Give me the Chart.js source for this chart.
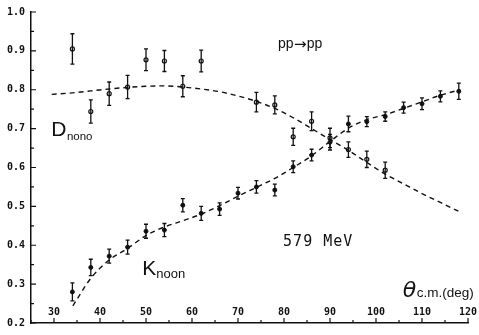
<!DOCTYPE html>
<html><head><meta charset="utf-8">
<script src="https://cdn.jsdelivr.net/npm/chart.js@4.4.0/dist/chart.umd.min.js"></script>
<style>html,body{margin:0;padding:0;background:#fff}#wrap{width:479px;height:335px}</style>
</head><body><div id="wrap"><canvas id="c" width="479" height="335"></canvas></div>
<script>
// ---- data ----
const dAngles = [34, 38, 42, 46, 50, 54, 58, 62, 74, 78, 82, 86, 90, 94, 98, 102];
const dValues = [0.905, 0.744, 0.790, 0.807, 0.877, 0.874, 0.809, 0.874, 0.768, 0.761, 0.679, 0.719, 0.676, 0.646, 0.621, 0.593];
const dErrors = [0.039, 0.030, 0.030, 0.030, 0.028, 0.027, 0.027, 0.028, 0.025, 0.023, 0.022, 0.024, 0.025, 0.020, 0.021, 0.021];

const kAngles = [34, 38, 42, 46, 50, 54, 58, 62, 66, 70, 74, 78, 82, 86, 90, 94, 98, 102, 106, 110, 114, 118];
const kValues = [0.280, 0.343, 0.372, 0.395, 0.436, 0.439, 0.503, 0.482, 0.493, 0.534, 0.550, 0.542, 0.602, 0.632, 0.665, 0.712, 0.718, 0.731, 0.754, 0.764, 0.783, 0.796];
const kErrors = [0.023, 0.021, 0.018, 0.018, 0.018, 0.017, 0.017, 0.018, 0.016, 0.015, 0.016, 0.015, 0.015, 0.015, 0.020, 0.020, 0.013, 0.012, 0.014, 0.015, 0.014, 0.021];

const dCurveAngles = [29.5, 34, 38, 42, 46, 50, 54, 58, 62, 66, 70, 74, 78, 82, 86, 90, 94, 98, 102, 106, 110, 114, 118.2];
const dCurveValues = [0.788, 0.792, 0.797, 0.802, 0.806, 0.809, 0.810, 0.807, 0.802, 0.795, 0.784, 0.770, 0.752, 0.728, 0.700, 0.672, 0.644, 0.613, 0.583, 0.558, 0.533, 0.510, 0.486];

const kCurveAngles = [34.1, 38, 42, 46, 50, 54, 58, 62, 66, 70, 74, 78, 82, 86, 90, 94, 98, 102, 106, 110, 114, 118.3];
const kCurveValues = [0.244, 0.315, 0.362, 0.392, 0.425, 0.447, 0.463, 0.480, 0.502, 0.526, 0.549, 0.572, 0.600, 0.630, 0.667, 0.701, 0.723, 0.736, 0.752, 0.769, 0.786, 0.800];

const xTickLabels = ['30', '40', '50', '60', '70', '80', '90', '100', '110', '120'];
const yTickLabels = ['0.2', '0.3', '0.4', '0.5', '0.6', '0.7', '0.8', '0.9', '1.0'];

const toPts = (xs, ys) => xs.map((x, i) => ({x: x, y: ys[i]}));
const INK = '#111';

// ---- error bars drawn through the chart scales ----
const errorBars = {
  id: 'errorBars',
  afterDatasetsDraw(chart) {
    const {ctx, scales: {x, y}} = chart;
    chart.data.datasets.forEach((ds) => {
      if (!ds.errors) return;
      ctx.save();
      ctx.strokeStyle = INK; ctx.lineWidth = 1.3;
      ds.data.forEach((p, j) => {
        const e = ds.errors[j];
        const px = x.getPixelForValue(p.x);
        const y1 = y.getPixelForValue(p.y + e), y2 = y.getPixelForValue(p.y - e);
        ctx.beginPath();
        ctx.moveTo(px, y1); ctx.lineTo(px, y2);
        ctx.moveTo(px - 2, y1); ctx.lineTo(px + 2, y1);
        ctx.moveTo(px - 2, y2); ctx.lineTo(px + 2, y2);
        ctx.stroke();
      });
      ctx.restore();
    });
  }
};

// ---- inward tick marks and x labels inside the plot ----
const axisDecor = {
  id: 'axisDecor',
  afterDraw(chart) {
    const {ctx, scales: {x, y}, chartArea: a} = chart;
    ctx.save();
    ctx.strokeStyle = INK; ctx.lineWidth = 1.2;
    ctx.beginPath();
    for (let v = 25; v <= 120; v += 5) {
      const px = x.getPixelForValue(v);
      const len = (v % 10 === 0) ? 5 : 3;
      ctx.moveTo(px, a.bottom); ctx.lineTo(px, a.bottom - len);
    }
    for (let i = 0; i <= 16; i++) {
      const v = 0.2 + i * 0.05;
      const py = y.getPixelForValue(v);
      const len = (i % 2 === 0) ? 5 : 3;
      ctx.moveTo(a.left, py); ctx.lineTo(a.left + len, py);
    }
    ctx.stroke();
    ctx.fillStyle = INK;
    ctx.font = 'bold 10px "DejaVu Sans Mono"';
    ctx.textAlign = 'center'; ctx.textBaseline = 'alphabetic';
    xTickLabels.forEach(t => {
      ctx.fillText(t, x.getPixelForValue(Number(t)), a.bottom - 8);
    });
    ctx.restore();
  }
};

// ---- annotations placed in data coordinates ----
const annotations = {
  id: 'annotations',
  afterDraw(chart) {
    const {ctx, scales: {x, y}} = chart;
    const X = v => x.getPixelForValue(v), Y = v => y.getPixelForValue(v);
    ctx.save();
    ctx.fillStyle = INK; ctx.textAlign = 'left'; ctx.textBaseline = 'alphabetic';
    // pp -> pp
    ctx.font = '14px "Liberation Sans"';
    let px0 = X(78.7);
    ctx.fillText('pp', px0, Y(0.907));
    let w = ctx.measureText('pp').width;
    ctx.font = '15px "DejaVu Sans"';
    ctx.fillText('\u2192', px0 + w + 0.5, Y(0.904));
    let wa = ctx.measureText('\u2192').width;
    ctx.font = '14px "Liberation Sans"';
    ctx.fillText('pp', px0 + w + wa + 0.5, Y(0.907));
    // D_nono
    ctx.font = '21px "Liberation Sans"';
    ctx.fillText('D', X(29.4), Y(0.680));
    w = ctx.measureText('D').width;
    ctx.font = '11.5px "Liberation Sans"';
    ctx.fillText('nono', X(29.4) + w + 0.5, Y(0.670));
    // K_noon
    ctx.font = '21px "Liberation Sans"';
    ctx.fillText('K', X(49.2), Y(0.323));
    w = ctx.measureText('K').width;
    ctx.font = '13px "Liberation Sans"';
    ctx.fillText('noon', X(49.2) + w, Y(0.317));
    // 579 MeV
    ctx.font = '15px "DejaVu Sans Mono"';
    ctx.letterSpacing = '1px';
    ctx.fillText('579 MeV', X(79.8), Y(0.399));
    ctx.letterSpacing = '0px';
    // theta c.m.(deg)
    ctx.font = 'italic 22px "DejaVu Sans"';
    ctx.fillText('\u03B8', X(105.8), Y(0.268));
    w = ctx.measureText('\u03B8').width;
    ctx.font = '13.5px "Liberation Sans"';
    ctx.fillText('c.m.(deg)', X(105.8) + w + 0.5, Y(0.268));
    ctx.restore();
  }
};

new Chart(document.getElementById('c'), {
  type: 'scatter',
  data: {
    datasets: [
      {label: 'Dcurve', data: toPts(dCurveAngles, dCurveValues), showLine: true, borderColor: INK,
       borderWidth: 1.4, borderDash: [5, 4], pointRadius: 0, cubicInterpolationMode: 'monotone', fill: false},
      {label: 'Kcurve', data: toPts(kCurveAngles, kCurveValues), showLine: true, borderColor: INK,
       borderWidth: 1.4, borderDash: [5, 4], pointRadius: 0, cubicInterpolationMode: 'monotone', fill: false},
      {label: 'Dnono', data: toPts(dAngles, dValues), errors: dErrors, showLine: false,
       pointRadius: 2, pointBackgroundColor: '#fff', pointBorderColor: INK, pointBorderWidth: 1.2},
      {label: 'Knoon', data: toPts(kAngles, kValues), errors: kErrors, showLine: false,
       pointRadius: 2, pointBackgroundColor: INK, pointBorderColor: INK, pointBorderWidth: 1}
    ]
  },
  options: {
    responsive: false, animation: false, events: [],
    layout: {padding: {left: 0, top: 6, right: 11, bottom: 0}},
    plugins: {legend: {display: false}, tooltip: {enabled: false}},
    scales: {
      x: {type: 'linear', min: 25, max: 120,
          grid: {display: false, drawTicks: false},
          border: {display: true, color: INK, width: 1.5},
          ticks: {display: false},
          afterFit(s) { s.height = 11; }},
      y: {type: 'linear', min: 0.2, max: 1.0,
          grid: {display: false, drawTicks: false},
          border: {display: true, color: INK, width: 1.5},
          ticks: {stepSize: 0.1, padding: 6, color: INK,
                  font: {family: 'DejaVu Sans Mono', size: 10, weight: 'bold'},
                  callback: (v) => { const s = v.toFixed(1); return yTickLabels.includes(s) ? s : ''; }},
          afterFit(s) { s.width = 31; }}
    }
  },
  plugins: [errorBars, axisDecor, annotations]
});
</script>
</body></html>
